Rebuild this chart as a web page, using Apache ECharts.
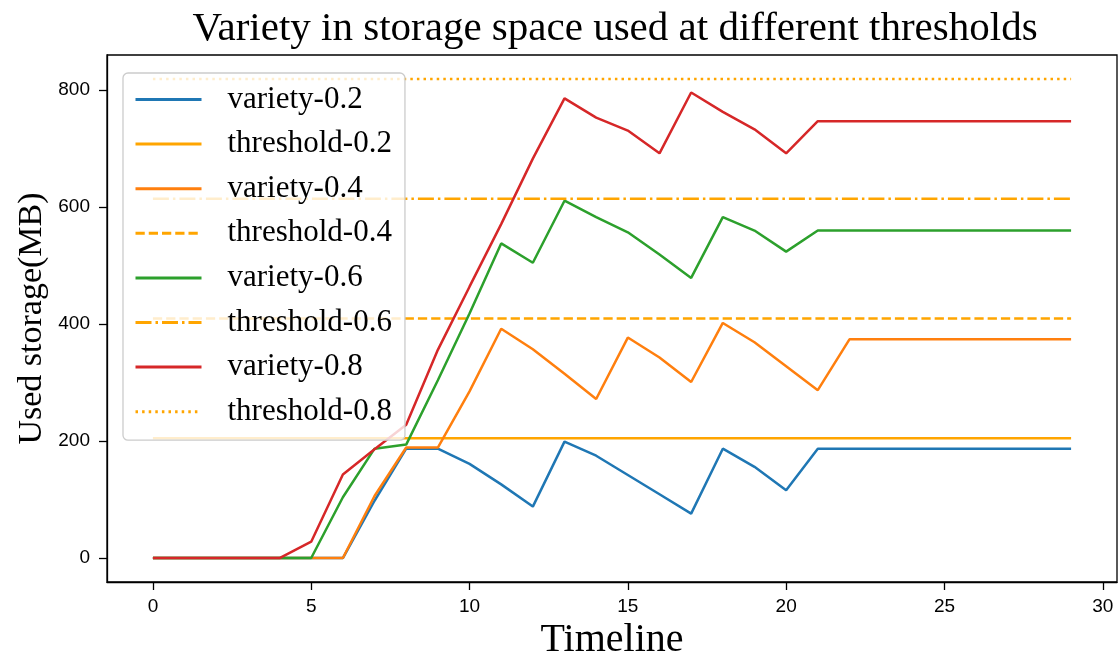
<!DOCTYPE html>
<html>
<head>
<meta charset="utf-8">
<script src="https://cdn.jsdelivr.net/npm/echarts@6/dist/echarts.min.js"></script>
<style>html,body{margin:0;padding:0;background:#fff}#c{width:1120px;height:658px}</style>
</head>
<body>
<div id="c"></div>
<script>
const timeline = [0,1,2,3,4,5,6,7,8,9,10,11,12,13,14,15,16,17,18,19,20,21,22,23,24,25,26,27,28,29];
const variety02 = [0,0,0,0,0,0,0,98,187,187,161,126,88,199,175,142,109,76,187,156,116,187,187,187,187,187,187,187,187,187];
const variety04 = [0,0,0,0,0,0,0,106,189,189,285,392,357,315,272,377,343,301,402,369,328,287,374,374,374,374,374,374,374,374];
const variety06 = [0,0,0,0,0,0,104,187,194,304,418,538,505,611,583,557,519,479,583,560,524,560,560,560,560,560,560,560,560,560];
const variety08 = [0,0,0,0,0,28,143,186,228,356,464,571,683,786,753,731,692,796,763,733,692,747,747,747,747,747,747,747,747,747];
const thresholds = [204.8, 409.6, 614.4, 819.2];
const thresholdNames = ['threshold-0.2','threshold-0.4','threshold-0.6','threshold-0.8'];
const xTicks = [0,5,10,15,20,25,30];
const yTicks = [0,200,400,600,800];

const serif = "'Liberation Serif','DejaVu Serif',serif";
const sans = "'Liberation Sans','DejaVu Sans',sans-serif";
const LW = 2.5;
const dashStyles = ['solid', [9.25,4], [16,4,2.5,4], [2.5,4.1]];

function pairs(vals){ return timeline.map((t,i)=>[t, vals[i]]); }
function varietySeries(name, vals, color){
  return {name, type:'line', data:pairs(vals), symbol:'none', showSymbol:false,
    lineStyle:{color, width:LW}, itemStyle:{color}, animation:false, z:2};
}
function thresholdSeries(k){
  const v = thresholds[k];
  return {name:thresholdNames[k], type:'line', data:[[timeline[0],v],[timeline[timeline.length-1],v]],
    symbol:'none', showSymbol:false,
    lineStyle:{color:'#FFA500', width:LW, type:dashStyles[k], cap:'butt'}, itemStyle:{color:'#FFA500'}, animation:false, z:2};
}

const chart = echarts.init(document.getElementById('c'), null, {renderer:'canvas'});
chart.setOption({
  animation:false,
  backgroundColor:'#fff',
  title:{text:'Variety in storage space used at different thresholds', left:610, textAlign:'center', top:4,
    textStyle:{fontFamily:serif, fontSize:41, fontWeight:'normal', color:'#000'}},
  grid:{left:107, right:3, top:55, bottom:76, containLabel:false, outerBoundsMode:'none',
    show:true, borderColor:'#000', borderWidth:1.3, backgroundColor:'transparent'},
  legend:{
    orient:'vertical', left:123, top:73, padding:[11,13,13,11], itemGap:13.6, itemWidth:66, itemHeight:14,
    backgroundColor:'rgba(255,255,255,0.8)', borderColor:'#cccccc', borderWidth:1.3, borderRadius:5,
    itemStyle:{opacity:0},
    lineStyle:{width:3},
    textStyle:{fontFamily:serif, fontSize:31, color:'#000', padding:[0,0,0,21], lineHeight:30},
    data:['variety-0.2','threshold-0.2','variety-0.4','threshold-0.4','variety-0.6','threshold-0.6','variety-0.8','threshold-0.8']
  },
  xAxis:{type:'value', min:-1.45, max:30.45, name:'Timeline', nameLocation:'middle', nameGap:34,
    nameTextStyle:{fontFamily:serif, fontSize:40, color:'#000'},
    axisLine:{show:true, onZero:false, lineStyle:{color:'#000', width:1.3}},
    axisTick:{show:true, length:8, customValues:xTicks, lineStyle:{color:'#000', width:1.3}},
    axisLabel:{customValues:xTicks, fontFamily:sans, fontSize:19, color:'#000', margin:15},
    splitLine:{show:false}},
  yAxis:{type:'value', min:-40.96, max:860.16, name:'Used storage(MB)', nameLocation:'middle', nameGap:58,
    nameMoveOverlap:false,
    nameTextStyle:{fontFamily:serif, fontSize:34, color:'#000'},
    axisLine:{show:true, onZero:false, lineStyle:{color:'#000', width:1.3}},
    axisTick:{show:true, length:8, customValues:yTicks, lineStyle:{color:'#000', width:1.3}},
    axisLabel:{customValues:yTicks, fontFamily:sans, fontSize:19, color:'#000', margin:17},
    splitLine:{show:false}},
  series:[
    varietySeries('variety-0.2', variety02, '#1f77b4'),
    thresholdSeries(0),
    varietySeries('variety-0.4', variety04, '#ff7f0e'),
    thresholdSeries(1),
    varietySeries('variety-0.6', variety06, '#2ca02c'),
    thresholdSeries(2),
    varietySeries('variety-0.8', variety08, '#d62728'),
    thresholdSeries(3)
  ]
});
</script>
</body>
</html>
